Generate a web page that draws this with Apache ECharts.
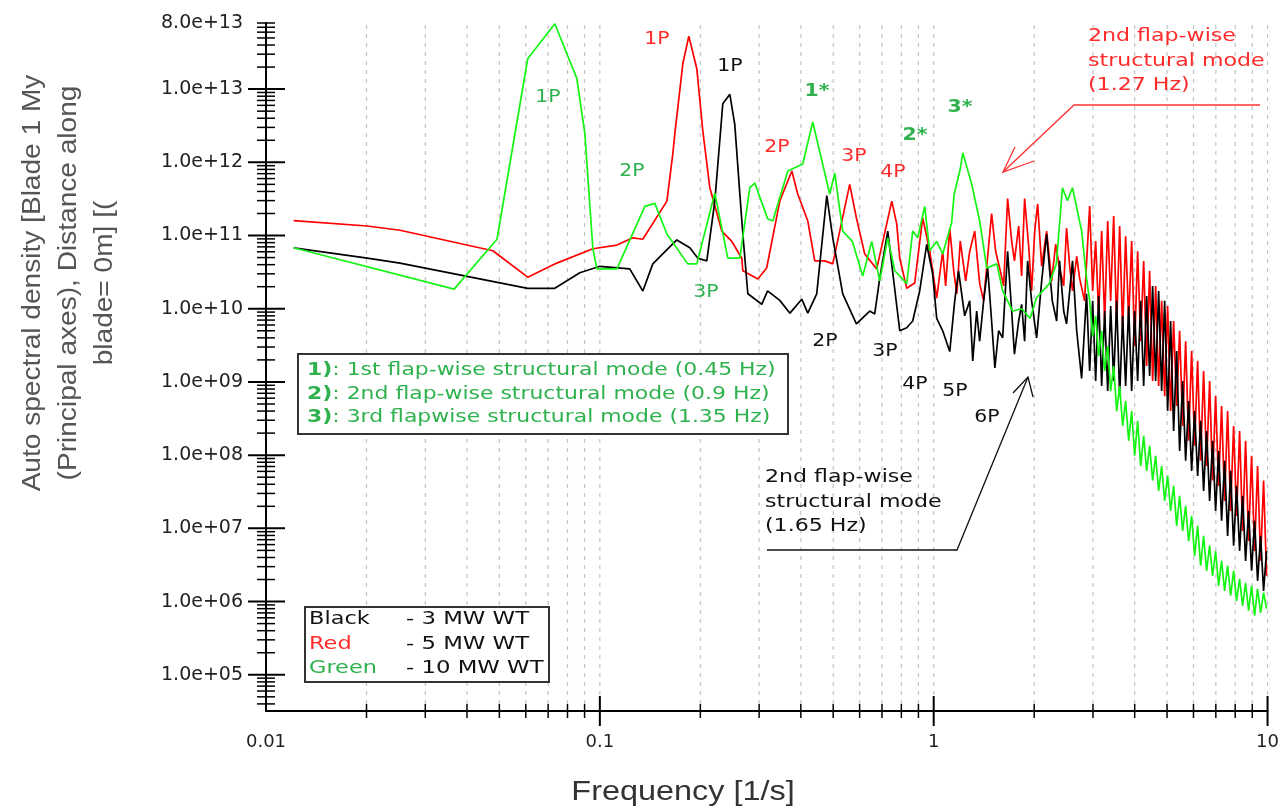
<!DOCTYPE html>
<html>
<head>
<meta charset="utf-8">
<script src="https://cdn.jsdelivr.net/npm/echarts@6/dist/echarts.min.js"></script>
<style>
  html, body { margin: 0; background: #fff; }
  #main { width: 1282px; height: 809px; }
</style>
</head>
<body>
<div id="main"></div>
<script>
// spectra: frequency [1/s] and auto spectral density
const blackFreq = [0.0121, 0.0201, 0.0252, 0.0608, 0.0733, 0.0871, 0.1, 0.1229, 0.1345, 0.1441,
  0.17, 0.186, 0.1966, 0.2091, 0.221, 0.2335, 0.2451, 0.2536, 0.2626, 0.2681,
  0.2775, 0.3055, 0.318, 0.3459, 0.371, 0.4026, 0.4196, 0.4463, 0.4784, 0.4985,
  0.534, 0.5868, 0.6433, 0.6658, 0.6891, 0.7284, 0.7913, 0.8303, 0.8652, 0.9078,
  0.9528, 0.9928, 1.021, 1.064, 1.117, 1.156, 1.187, 1.238, 1.282, 1.309,
  1.345, 1.373, 1.411, 1.451, 1.491, 1.525, 1.565, 1.609, 1.665, 1.712,
  1.745, 1.797, 1.834, 1.872, 1.911, 1.965, 2.034, 2.106, 2.179, 2.225,
  2.266, 2.335, 2.382, 2.451, 2.50, 2.555, 2.605, 2.681, 2.774, 2.87];
const blackPsd = [6.8e10, 4.9e10, 4.2e10, 1.9e10, 1.9e10, 3.1e10, 3.8e10, 3.5e10, 1.75e10, 4.1e10,
  8.7e10, 6.8e10, 4.9e10, 4.5e10, 2.95e11, 6.3e12, 8.5e12, 3.3e12, 3.7e11, 1.05e11,
  1.6e10, 1.15e10, 1.75e10, 1.3e10, 8.7e9, 1.35e10, 8.7e9, 1.6e10, 3.5e11, 9.3e10,
  1.6e10, 6.2e9, 9.3e9, 8.5e9, 2.6e10, 1.15e11, 5.0e9, 5.5e9, 6.8e9, 1.75e10,
  7.6e10, 3.0e10, 7.4e9, 5.0e9, 2.6e9, 1.28e10, 3.3e10, 8.0e9, 1.28e10, 1.94e9,
  9.3e9, 3.6e9, 1.28e10, 3.6e10, 6.8e9, 1.55e9, 5.0e9, 4.0e9, 6.1e10, 9.3e9,
  2.4e9, 6.8e9, 1.15e10, 3.6e9, 4.5e10, 1.28e10, 4.0e9, 2.4e10, 1.05e11, 3.3e10,
  1.28e10, 6.8e9, 4.5e10, 9.3e9, 6.2e9, 1.75e10, 4.5e10, 5.0e9, 1.12e9, 1.6e10];

const redFreq = [0.0121, 0.0201, 0.0252, 0.0478, 0.0608, 0.0743, 0.0953, 0.1125, 0.1256, 0.1345,
  0.1588, 0.1654, 0.1677, 0.1772, 0.1847, 0.1952, 0.2034, 0.2135, 0.2319, 0.2485,
  0.2662, 0.2681, 0.2973, 0.316, 0.3459, 0.3759, 0.3916, 0.4196, 0.4402, 0.4718,
  0.4985, 0.5603, 0.5868, 0.6214, 0.6751, 0.7489, 0.7749, 0.7913, 0.8303, 0.8773,
  0.9268, 0.9727, 1.021, 1.064, 1.086, 1.117, 1.148, 1.173, 1.201, 1.247,
  1.282, 1.327, 1.373, 1.411, 1.451, 1.491, 1.533, 1.576, 1.620, 1.665,
  1.712, 1.745, 1.797, 1.834, 1.872, 1.925, 1.965, 2.007, 2.048, 2.106,
  2.179, 2.256, 2.319, 2.382, 2.451, 2.50, 2.555, 2.605, 2.681, 2.736, 2.83];
const redPsd = [1.6e11, 1.35e11, 1.18e11, 6.2e10, 2.7e10, 4.2e10, 6.6e10, 7.4e10, 9.3e10, 8.9e10,
  2.95e11, 1.3e12, 2.45e12, 2.2e13, 5.3e13, 1.9e13, 2.7e12, 4.5e11, 1.15e11, 8.3e10,
  4.9e10, 3.3e10, 2.55e10, 3.6e10, 2.95e11, 7.6e11, 3.7e11, 1.58e11, 4.5e10, 4.5e10,
  4.1e10, 5.0e11, 1.74e11, 5.6e10, 3.5e10, 2.95e11, 1.44e11, 4.9e10, 1.9e10, 2.25e10,
  1.74e11, 6.2e10, 1.4e10, 6.1e10, 2.05e10, 1.26e11, 3.3e10, 1.6e10, 8.4e10, 2.4e10,
  6.1e10, 1.15e11, 2.2e10, 1.28e10, 5.2e10, 2.0e11, 6.1e10, 3.6e10, 2.05e10, 3.2e11,
  8.4e10, 4.5e10, 1.35e11, 2.8e10, 3.2e11, 7.2e10, 1.75e10, 1.15e11, 2.7e11, 3.8e10,
  1.15e11, 2.4e10, 7.6e10, 3.6e10, 2.05e10, 1.26e11, 3.8e10, 1.75e10, 5.2e10, 2.6e10, 1.28e10];

const greenFreq = [0.0121, 0.0366, 0.0492, 0.0608, 0.0733, 0.0853, 0.0902, 0.0953, 0.098, 0.1125,
  0.1364, 0.1461, 0.1588, 0.1834, 0.1952, 0.221, 0.2417, 0.2626, 0.2814, 0.2912,
  0.318, 0.3296, 0.3656, 0.4054, 0.4342, 0.4882, 0.5054, 0.534, 0.5707, 0.6129,
  0.6522, 0.6891, 0.7284, 0.7644, 0.8303, 0.8652, 0.8955, 0.9398, 0.9727, 1.021,
  1.064, 1.131, 1.152, 1.201, 1.222, 1.30, 1.373, 1.442, 1.546, 1.609,
  1.724, 1.833, 1.945, 2.03, 2.22, 2.33, 2.43, 2.515, 2.605, 2.774, 2.87];
const greenPsd = [6.8e10, 1.85e10, 8.9e10, 2.6e13, 7.8e13, 1.4e13, 2.45e12, 6.6e10, 3.5e10, 3.5e10,
  2.5e11, 2.75e11, 1.05e11, 4.1e10, 4.1e10, 3.8e11, 4.9e10, 4.9e10, 4.5e11, 5.2e11,
  1.7e11, 1.58e11, 7.6e11, 9.5e11, 3.55e12, 3.7e11, 7.1e11, 1.15e11, 8.3e10, 2.8e10,
  8.3e10, 2.4e10, 9.3e10, 3.3e10, 2.2e10, 1.15e11, 9.3e10, 2.5e11, 6.2e10, 8.3e10,
  5.6e10, 1.48e11, 3.7e11, 8.1e11, 1.35e12, 5.0e11, 1.58e11, 3.6e10, 4.1e10, 1.75e10,
  9.3e9, 1.0e10, 7.4e9, 1.4e10, 2.2e10, 4.1e10, 4.5e11, 3.0e11, 4.5e11, 1.15e11, 2.6e10];

// high-frequency part (3-10 Hz), read spike by spike at the FFT bins
const tailFreq = [2.932, 2.993, 3.056, 3.120, 3.185, 3.252, 3.320, 3.389, 3.460, 3.532,
  3.606, 3.681, 3.758, 3.837, 3.917, 3.999, 4.082, 4.168, 4.255, 4.344,
  4.434, 4.527, 4.622, 4.718, 4.817, 4.918, 5.020, 5.125, 5.232, 5.342,
  5.453, 5.567, 5.684, 5.802, 5.924, 6.047, 6.174, 6.303, 6.434, 6.569,
  6.706, 6.846, 6.989, 7.135, 7.284, 7.437, 7.592, 7.751, 7.913, 8.078,
  8.247, 8.419, 8.595, 8.775, 8.958, 9.145, 9.336, 9.531, 9.730, 9.933];
const redTail = [2.53e11, 1.75e10, 8.4e10, 8.0e9, 1.15e11, 6.8e9, 1.58e11, 1.28e10, 1.85e11, 5.8e9,
  1.35e11, 5.0e9, 9.8e10, 6.8e9, 8.4e10, 3.1e9, 6.1e10, 3.6e9, 4.5e10, 1.65e9,
  3.3e10, 1.03e9, 2.05e10, 8.8e8, 1.28e10, 6.4e8, 1.09e10, 4.0e8, 6.8e9, 4.7e8,
  5.0e9, 2.5e8, 3.6e9, 1.57e8, 2.65e9, 1.34e8, 1.94e9, 8.4e7, 1.41e9, 7.1e7,
  1.03e9, 4.5e7, 6.4e8, 3.8e7, 4.7e8, 2.37e7, 4.0e8, 1.73e7, 2.5e8, 1.48e7,
  2.14e8, 9.2e6, 1.57e8, 6.7e6, 9.8e7, 4.9e6, 7.1e7, 3.6e6, 4.5e7, 2.25e6];
const blackTail = [1.41e9, 1.28e10, 1.03e9, 1.49e10, 8.8e8, 9.3e9, 7.5e8, 1.09e10, 1.03e9, 1.28e10,
  6.4e8, 8.0e9, 8.8e8, 1.09e10, 7.5e8, 9.3e9, 1.03e9, 1.28e10, 8.8e8, 1.49e10,
  1.21e9, 2.05e10, 1.03e9, 1.75e10, 7.5e8, 1.28e10, 4.0e8, 6.8e9, 2.14e8, 2.65e9,
  1.14e8, 1.03e9, 8.4e7, 5.5e8, 6.1e7, 4.0e8, 5.2e7, 2.94e8, 3.25e7, 2.14e8,
  2.37e7, 1.57e8, 1.73e7, 1.14e8, 1.27e7, 8.4e7, 7.9e6, 6.1e7, 5.8e6, 3.8e7,
  4.9e6, 2.78e7, 3.6e6, 1.73e7, 2.63e6, 1.27e7, 1.92e6, 7.9e6, 1.40e6, 4.9e6];
const greenTail = [1.28e10, 4.2e9, 8.0e9, 2.26e9, 5.0e9, 1.41e9, 3.1e9, 7.5e8, 1.65e9, 4.0e8,
  8.8e8, 2.5e8, 5.5e8, 1.57e8, 4.0e8, 9.8e7, 2.94e8, 7.1e7, 1.83e8, 6.1e7,
  1.34e8, 4.5e7, 9.8e7, 3.25e7, 7.1e7, 2.37e7, 5.2e7, 1.73e7, 3.8e7, 1.08e7,
  2.78e7, 9.2e6, 2.03e7, 6.7e6, 1.48e7, 4.2e6, 1.08e7, 3.1e6, 7.9e6, 2.63e6,
  5.8e6, 2.25e6, 4.9e6, 1.64e6, 3.6e6, 1.40e6, 3.1e6, 1.20e6, 2.63e6, 1.02e6,
  2.05e6, 8.7e5, 1.80e6, 7.5e5, 1.64e6, 6.4e5, 1.49e6, 7.0e5, 1.32e6, 8.0e5];

// axes
const xDecades = [0.01, 0.1, 1, 10];
const yDecades = [1e4, 1e5, 1e6, 1e7, 1e8, 1e9, 1e10, 1e11, 1e12, 1e13];
const yMin = 3.2e4;
const yMax = 8e13;

const pairs = (xs, ys) => xs.map((x, i) => [x, ys[i]]);
const curve = (f, p, tail) => pairs(f, p).concat(pairs(tailFreq, tail));

function expLabel(v) {
  if (v < 9e4) return '';
  const e = Math.floor(Math.log10(v) + 1e-6);
  const m = v / Math.pow(10, e);
  return m.toFixed(1) + 'e+' + String(e).padStart(2, '0');
}

const chart = echarts.init(document.getElementById('main'));

const option = {
  animation: false,
  backgroundColor: '#fff',
  grid: { left: 266, right: 13, top: 23, bottom: 98 },
  xAxis: {
    type: 'log',
    logBase: 10,
    min: 0.01,
    max: 10,
    splitNumber: 5,
    axisLine: { lineStyle: { color: '#000', width: 2 } },
    axisTick: { show: false },
    splitLine: { show: false },
    axisLabel: {
      margin: 22,
      fontSize: 18,
      fontFamily: 'DejaVu Sans',
      color: '#222',
      formatter: v => String(Number(v.toPrecision(2)))
    }
  },
  yAxis: {
    type: 'log',
    logBase: 10,
    min: yMin,
    max: yMax,
    splitNumber: 10,
    axisLine: { lineStyle: { color: '#000', width: 2 } },
    axisTick: { show: false },
    splitLine: { show: false },
    axisLabel: {
      margin: 23,
      fontSize: 19,
      fontFamily: 'DejaVu Sans',
      color: '#222',
      formatter: expLabel
    }
  },
  series: [
    { name: '5 MW WT', type: 'line', data: curve(redFreq, redPsd, redTail), symbol: 'none',
      lineStyle: { color: '#ff0000', width: 1.7 }, itemStyle: { color: '#ff0000' }, z: 2 },
    { name: '3 MW WT', type: 'line', data: curve(blackFreq, blackPsd, blackTail), symbol: 'none',
      lineStyle: { color: '#000000', width: 1.7 }, itemStyle: { color: '#000' }, z: 3 },
    { name: '10 MW WT', type: 'line', data: curve(greenFreq, greenPsd, greenTail), symbol: 'none',
      lineStyle: { color: '#14f514', width: 1.7 }, itemStyle: { color: '#14f514' }, z: 4 }
  ]
};
chart.setOption(option);

// gridlines, log ticks and annotations, placed through the axes
const FONT = '"DejaVu Sans"';
const GREEN_TXT = '#2fb24e';
const RED_TXT = '#ff2b2b';

function txt(x, y, text, color, size, opts) {
  opts = opts || {};
  return {
    type: 'text', x: x, y: y, z: 20, silent: true,
    scaleX: opts.scaleX || 1.2,
    rotation: opts.rotation || 0,
    style: {
      text: text,
      fill: color,
      font: (opts.bold ? 'bold ' : '') + size + 'px ' + (opts.family || FONT),
      textAlign: opts.align || 'center',
      textVerticalAlign: 'middle',
      verticalAlign: 'middle',
      lineHeight: opts.lineHeight,
      rich: opts.rich
    }
  };
}
function seg(x1, y1, x2, y2, color, w, dash) {
  return { type: 'line', z: 5, silent: true,
    shape: { x1: x1, y1: y1, x2: x2, y2: y2 },
    style: { stroke: color, lineWidth: w, lineDash: dash || null } };
}
function poly(points, color, w) {
  return { type: 'polyline', z: 20, silent: true,
    shape: { points: points }, style: { stroke: color, lineWidth: w, fill: null } };
}

const g = [];
const xPix = v => chart.convertToPixel({ xAxisIndex: 0 }, v);
const yPix = v => chart.convertToPixel({ yAxisIndex: 0 }, v);
const axisX = xPix(0.01);
const axisY = yPix(yMin);
const topY = yPix(yMax);

xDecades.forEach(d => {
  for (let m = 1; m <= 9; m++) {
    const v = m * d;
    if (v <= 0.01 * 1.0001 || v > 10.0001) continue;
    const x = xPix(v);
    g.push(Object.assign(seg(x, topY + 2, x, axisY, '#c4c4c4', 1.2, [4, 5]), { z: 1 }));
    if (m === 1) g.push(seg(x, axisY - 15, x, axisY + 15, '#000', 2));
    else g.push(seg(x, axisY - 7, x, axisY + 7, '#000', 1.5));
  }
});
yDecades.forEach(d => {
  for (let m = 1; m <= 9; m++) {
    const v = m * d;
    if (v < yMin || v > yMax * 1.0001) continue;
    const y = yPix(v);
    if (m === 1) g.push(seg(axisX - 18, y, axisX + 19, y, '#000', 2));
    else g.push(seg(axisX - 9, y, axisX + 9, y, '#000', 1.5));
  }
});

// axis titles
g.push(txt(69, 283, 'Auto spectral density [Blade 1 My\n(Principal axes), Distance along\nblade= 0m] [(',
  '#555', 26, { family: '"Liberation Sans"', rotation: Math.PI / 2, lineHeight: 36, scaleX: 1.08 }));
g.push(txt(683, 793, 'Frequency [1/s]', '#333', 27, { family: '"Liberation Sans"', scaleX: 1.2 }));

// peak labels
[
  [548, 98, '1P', GREEN_TXT, false], [657, 40, '1P', RED_TXT, false], [730, 67, '1P', '#111', false],
  [817, 92, '1*', GREEN_TXT, true], [777, 148, '2P', RED_TXT, false], [854, 157, '3P', RED_TXT, false],
  [893, 173, '4P', RED_TXT, false], [915, 136, '2*', GREEN_TXT, true], [960, 108, '3*', GREEN_TXT, true],
  [632, 172, '2P', GREEN_TXT, false], [706, 293, '3P', GREEN_TXT, false], [825, 342, '2P', '#111', false],
  [885, 352, '3P', '#111', false], [915, 385, '4P', '#111', false], [955, 392, '5P', '#111', false],
  [987, 418, '6P', '#111', false]
].forEach(p => g.push(txt(p[0], p[1], p[2], p[3], 17, { bold: p[4], scaleX: 1.2 })));

// structural mode box
g.push({ type: 'rect', z: 15, silent: true, shape: { x: 298, y: 354, width: 490, height: 80 },
  style: { fill: '#fff', stroke: '#333', lineWidth: 2 } });
const modeRich = { b: { fontWeight: 'bold', fill: GREEN_TXT, fontSize: 17, fontFamily: 'DejaVu Sans' },
  n: { fill: GREEN_TXT, fontSize: 17, fontFamily: 'DejaVu Sans' } };
['{b|1)}{n|: 1st flap-wise structural mode (0.45 Hz)}',
 '{b|2)}{n|: 2nd flap-wise structural mode (0.9 Hz)}',
 '{b|3)}{n|: 3rd flapwise structural mode (1.35 Hz)}'].forEach((t, i) => {
  g.push(txt(307, 371 + i * 23.5, t, GREEN_TXT, 17, { align: 'left', rich: modeRich, scaleX: 1.29 }));
});

// turbine legend box
g.push({ type: 'rect', z: 15, silent: true, shape: { x: 305, y: 607, width: 244, height: 75 },
  style: { fill: '#fff', stroke: '#333', lineWidth: 2 } });
[['Black', '#111', '- 3 MW WT'], ['Red', RED_TXT, '- 5 MW WT'], ['Green', GREEN_TXT, '- 10 MW WT']]
  .forEach((r, i) => {
    g.push(txt(309, 620 + i * 24.5, r[0], r[1], 17, { align: 'left', scaleX: 1.32 }));
    g.push(txt(406, 620 + i * 24.5, r[2], '#111', 17, { align: 'left', scaleX: 1.34 }));
  });

// red callout
g.push(txt(1088, 61.5, '2nd flap-wise\nstructural mode\n(1.27 Hz)', RED_TXT, 17,
  { align: 'left', lineHeight: 24.5, scaleX: 1.3 }));
g.push(poly([[1260, 105], [1074, 105], [1003, 172]], '#ff3030', 1.3));
g.push(poly([[1015, 147], [1003, 172], [1034, 161]], '#ff3030', 1.3));

// black callout
g.push(txt(765, 502.5, '2nd flap-wise\nstructural mode\n(1.65 Hz)', '#111', 17,
  { align: 'left', lineHeight: 24.5, scaleX: 1.3 }));
g.push(poly([[767, 550], [957, 550], [1028, 377]], '#111', 1.3));
g.push(poly([[1013, 393], [1028, 377], [1033, 397]], '#111', 1.3));

chart.setOption({ graphic: { elements: g } });
</script>
</body>
</html>
